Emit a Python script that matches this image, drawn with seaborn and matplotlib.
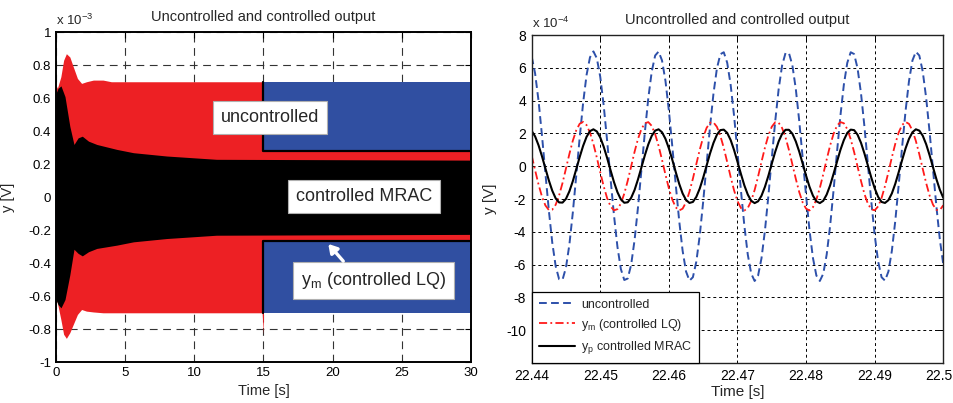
import numpy as np
import pandas as pd
import matplotlib
matplotlib.use("Agg")
import matplotlib.pyplot as plt
import matplotlib.transforms as mtransforms
import seaborn as sns

# ---------------- data: left panel (envelopes of dense oscillation, x1e-3 V) ----------------
unc_t = [15.0, 30.0]
unc_upper = [0.70, 0.70]
unc_lower = [-0.70, -0.70]
unc_edge_t = [15.0, 15.0, 30.0]
unc_edge_upper = [0.70, 0.28, 0.28]
unc_edge_lower = [-0.70, -0.265, -0.265]

lq_t = [0.0, 0.1, 0.35, 0.55, 0.75, 1.0, 1.25, 1.55, 1.85, 2.2, 2.7, 3.4, 4.0, 14.9, 15.0, 15.0, 30.0]
lq_upper = [0.68, 0.66, 0.73, 0.83, 0.87, 0.85, 0.79, 0.72, 0.69, 0.70, 0.71, 0.71, 0.70, 0.70, 0.70, 0.28, 0.28]
lq_lower = [-0.62, -0.64, -0.74, -0.83, -0.855, -0.82, -0.77, -0.71, -0.68, -0.69, -0.695, -0.70, -0.70, -0.70, -0.83, -0.26, -0.26]

mrac_t = [0.0, 0.15, 0.36, 0.65, 1.0, 1.3, 1.6, 1.9, 2.35, 2.95, 4.4, 5.6, 8.0, 11.6, 30.0]
mrac_upper = [0.63, 0.66, 0.675, 0.61, 0.43, 0.32, 0.36, 0.37, 0.34, 0.32, 0.29, 0.27, 0.25, 0.23, 0.225]
mrac_lower = [-0.62, -0.65, -0.67, -0.62, -0.47, -0.315, -0.34, -0.355, -0.33, -0.31, -0.29, -0.27, -0.25, -0.23, -0.225]

left_xticks = [0, 5, 10, 15, 20, 25, 30]
left_yticks = [-1, -0.8, -0.6, -0.4, -0.2, 0, 0.2, 0.4, 0.6, 0.8, 1]
left_ytick_labels = ["-1", "-0.8", "-0.6", "-0.4", "-0.2", "0", "0.2", "0.4", "0.6", "0.8", "1"]

# ---------------- data: right panel (samples every 0.5 ms, x1e-4 V) ----------------
t_start = 22.44
t_step = 0.0005
unc_zoom = [6.69, 5.66, 4.00, 1.89, -0.42, -2.68, -4.65, -6.10, -6.89, -6.92,
            -6.18, -4.77, -2.82, -0.57, 1.74, 3.86, 5.56, 6.64, 7.00, 6.58,
            5.44, 3.70, 1.55, -0.77, -3.00, -4.91, -6.27, -6.94, -6.85, -6.01,
            -4.50, -2.50, -0.22, 2.08, 4.15, 5.77, 6.75, 6.99, 6.45, 5.21,
            3.39, 1.20, -1.12, -3.32, -5.15, -6.42, -6.98, -6.77, -5.82, -4.22,
            -2.16, 0.13, 2.42, 4.43, 5.96, 6.83, 6.95, 6.31, 4.97, 3.08,
            0.85, -1.47, -3.63, -5.39, -6.55, -7.00, -6.67, -5.61, -3.93, -1.82,
            0.49, 2.75, 4.70, 6.14, 6.90, 6.90, 6.15, 4.71, 2.76, 0.50,
            -1.81, -3.92, -5.60, -6.67, -7.00, -6.56, -5.39, -3.64, -1.48, 0.84,
            3.07, 4.96, 6.30, 6.95, 6.84, 5.97, 4.45, 2.43, 0.15, -2.15,
            -4.21, -5.81, -6.77, -6.98, -6.42, -5.16, -3.33, -1.13, 1.19, 3.38,
            5.20, 6.45, 6.98, 6.75, 5.78, 4.16, 2.09, -0.21, -2.49, -4.49,
            -6.00]
lq_zoom = [0.65, -0.24, -1.11, -1.85, -2.39, -2.67, -2.65, -2.35, -1.78, -1.02,
           -0.14, 0.75, 1.56, 2.19, 2.59, 2.70, 2.51, 2.05, 1.36, 0.52,
           -0.38, -1.23, -1.95, -2.45, -2.69, -2.62, -2.28, -1.67, -0.89, -0.01,
           0.88, 1.67, 2.27, 2.62, 2.69, 2.46, 1.95, 1.24, 0.39, -0.51,
           -1.35, -2.04, -2.51, -2.70, -2.59, -2.20, -1.56, -0.76, 0.13, 1.01,
           1.77, 2.34, 2.65, 2.67, 2.40, 1.86, 1.12, 0.25, -0.65, -1.47,
           -2.13, -2.55, -2.70, -2.55, -2.12, -1.45, -0.63, 0.27, 1.13, 1.87,
           2.41, 2.68, 2.65, 2.33, 1.76, 0.99, 0.11, -0.77, -1.58, -2.21,
           -2.59, -2.70, -2.50, -2.03, -1.33, -0.49, 0.41, 1.26, 1.97, 2.47,
           2.69, 2.62, 2.26, 1.65, 0.86, -0.02, -0.90, -1.69, -2.28, -2.63,
           -2.69, -2.45, -1.94, -1.21, -0.36, 0.54, 1.37, 2.06, 2.52, 2.70,
           2.58, 2.18, 1.54, 0.73, -0.16, -1.03, -1.79, -2.35, -2.66, -2.67,
           -2.38]
mrac_zoom = [2.15, 1.82, 1.28, 0.61, -0.13, -0.86, -1.49, -1.96, -2.21, -2.22,
             -1.99, -1.53, -0.91, -0.18, 0.56, 1.24, 1.79, 2.14, 2.25, 2.12,
             1.75, 1.19, 0.50, -0.25, -0.97, -1.58, -2.02, -2.23, -2.20, -1.93,
             -1.45, -0.80, -0.07, 0.67, 1.33, 1.85, 2.17, 2.25, 2.07, 1.67,
             1.09, 0.39, -0.36, -1.07, -1.66, -2.06, -2.24, -2.18, -1.87, -1.36,
             -0.70, 0.04, 0.78, 1.42, 1.92, 2.20, 2.23, 2.03, 1.60, 0.99,
             0.27, -0.47, -1.17, -1.73, -2.11, -2.25, -2.14, -1.80, -1.26, -0.59,
             0.16, 0.88, 1.51, 1.97, 2.22, 2.22, 1.98, 1.51, 0.89, 0.16,
             -0.58, -1.26, -1.80, -2.14, -2.25, -2.11, -1.73, -1.17, -0.47, 0.27,
             0.99, 1.59, 2.03, 2.23, 2.20, 1.92, 1.43, 0.78, 0.05, -0.69,
             -1.35, -1.87, -2.18, -2.24, -2.07, -1.66, -1.07, -0.36, 0.38, 1.09,
             1.67, 2.07, 2.25, 2.17, 1.86, 1.34, 0.67, -0.07, -0.80, -1.44,
             -1.93]

right_xticks = [22.44, 22.45, 22.46, 22.47, 22.48, 22.49, 22.5]
right_xtick_labels = ["22.44", "22.45", "22.46", "22.47", "22.48", "22.49", "22.5"]
right_yticks = [-10, -8, -6, -4, -2, 0, 2, 4, 6, 8]
right_ytick_labels = ["-10", "-8", "-6", "-4", "-2", "0", "2", "4", "6", "8"]

title_text = "Uncontrolled and controlled output"
legend_labels = ["uncontrolled", "y$_\\mathregular{m}$ (controlled LQ)", "y$_\\mathregular{p}$ controlled MRAC"]

# ---------------- styling ----------------
sns.set_style("white")
plt.rcParams["font.family"] = ["Liberation Sans", "DejaVu Sans"]
plt.rcParams["mathtext.fontset"] = "custom"
plt.rcParams["mathtext.rm"] = "Liberation Sans"
plt.rcParams["mathtext.it"] = "Liberation Sans:italic"

BLUE_FILL = "#304fa1"
RED_FILL = "#ed2024"
BLUE_LINE = "#2d50aa"
RED_LINE = "#ff1a1a"

fig = plt.figure(figsize=(9.54, 4.03), dpi=100)
ax1 = fig.add_axes([0.0587, 0.101, 0.435, 0.819])
ax2 = fig.add_axes([0.5573, 0.0993, 0.4315, 0.8138])

# ---------------- left panel ----------------
ax1.fill_between(unc_t, unc_lower, unc_upper, color=BLUE_FILL, lw=0, zorder=2)
ax1.fill_between(lq_t, lq_lower, lq_upper, color=RED_FILL, lw=0, zorder=3)
ax1.fill_between(mrac_t, mrac_lower, mrac_upper, color="black", lw=0, zorder=4)
sns.lineplot(x=unc_edge_t, y=unc_edge_upper, ax=ax1, color="black", lw=1.6,
             sort=False, estimator=None, zorder=5)
sns.lineplot(x=unc_edge_t, y=unc_edge_lower, ax=ax1, color="black", lw=1.6,
             sort=False, estimator=None, zorder=5)

ax1.set_xlim(0, 30)
ax1.set_ylim(-1, 1)
ax1.set_xticks(left_xticks)
ax1.set_xticklabels([str(v) for v in left_xticks])
ax1.set_yticks(left_yticks)
ax1.set_yticklabels(left_ytick_labels)
ax1.set_axisbelow(True)
ax1.grid(True, color="#333333", lw=0.8, linestyle=(0, (7, 5)))
ax1.tick_params(direction="in", length=4, width=0.8, labelsize=9.5, pad=3.5,
                top=True, right=True, colors="black")
for s in ax1.spines.values():
    s.set_color("black")
    s.set_linewidth(1.4)
    s.set_zorder(10)
ax1.set_title(title_text, fontsize=10.5, pad=8)
ax1.set_xlabel("Time [s]", fontsize=10.5)
ax1.set_ylabel("y [V]", fontsize=10.5)
ax1.xaxis.set_label_coords(0.5, -0.066)
ax1.yaxis.set_label_coords(-0.1, 0.5)
ax1.text(0.0, 1.012, "x 10$^{-3}$", transform=ax1.transAxes, fontsize=9.5,
         ha="left", va="bottom")

box = dict(boxstyle="square,pad=0.45", facecolor="white", edgecolor="#b0b0b0", lw=0.8)
ax1.text(15.47, 0.484, "uncontrolled", fontsize=13, ha="center", va="center",
         bbox=box, zorder=8)
ax1.text(22.26, 0.006, "controlled MRAC", fontsize=13, ha="center", va="center",
         bbox=box, zorder=8)
ax1.text(22.96, -0.506, "y$_\\mathregular{m}$ (controlled LQ)", fontsize=13,
         ha="center", va="center", bbox=box, zorder=8)
ax1.annotate("", xy=(19.55, -0.27), xytext=(20.9, -0.40),
             arrowprops=dict(arrowstyle="-|>,head_length=0.5,head_width=0.3",
                             color="white", lw=2.4), zorder=9)

# ---------------- right panel ----------------
t_zoom = t_start + t_step * np.arange(len(unc_zoom))
df = pd.DataFrame({"t": t_zoom, "unc": unc_zoom, "lq": lq_zoom, "mrac": mrac_zoom})
sns.lineplot(data=df, x="t", y="unc", ax=ax2, color=BLUE_LINE, lw=1.4,
             linestyle=(0, (4, 2.2)), estimator=None, label=legend_labels[0])
sns.lineplot(data=df, x="t", y="lq", ax=ax2, color=RED_LINE, lw=1.3,
             linestyle=(0, (4.5, 1.8, 1.0, 1.8)), estimator=None, label=legend_labels[1])
sns.lineplot(data=df, x="t", y="mrac", ax=ax2, color="black", lw=1.5,
             estimator=None, label=legend_labels[2])

ax2.set_xlim(22.44, 22.5)
ax2.set_ylim(-12, 8)
ax2.set_xticks(right_xticks)
ax2.set_xticklabels(right_xtick_labels)
ax2.set_yticks(right_yticks)
ax2.set_yticklabels(right_ytick_labels)
ax2.set_axisbelow(True)
ax2.grid(True, color="black", lw=0.7, linestyle=(0, (3, 3)))
ax2.tick_params(direction="in", length=4, width=0.7, labelsize=10, pad=4,
                top=True, right=True, colors="black")
# keep the last tick label inside the canvas
last_lbl = ax2.get_xticklabels()[-1]
last_lbl.set_transform(last_lbl.get_transform() +
                       mtransforms.ScaledTranslation(-4 / 100, 0, fig.dpi_scale_trans))
for s in ax2.spines.values():
    s.set_color("#222222")
    s.set_linewidth(1.0)
ax2.set_title(title_text, fontsize=10.5, pad=8)
ax2.set_xlabel("Time [s]", fontsize=11)
ax2.set_ylabel("y [V]", fontsize=11)
ax2.xaxis.set_label_coords(0.5, -0.066)
ax2.yaxis.set_label_coords(-0.085, 0.5)
ax2.text(0.0, 1.012, "x 10$^{-4}$", transform=ax2.transAxes, fontsize=9.5,
         ha="left", va="bottom")
leg = ax2.legend(loc="lower left", frameon=True, fancybox=False, edgecolor="black",
                 framealpha=1, borderaxespad=0, fontsize=9, handlelength=2.9,
                 handletextpad=0.5, labelspacing=0.5, borderpad=0.55)
leg.get_frame().set_linewidth(0.9)

fig.savefig("out.png", dpi=100)
